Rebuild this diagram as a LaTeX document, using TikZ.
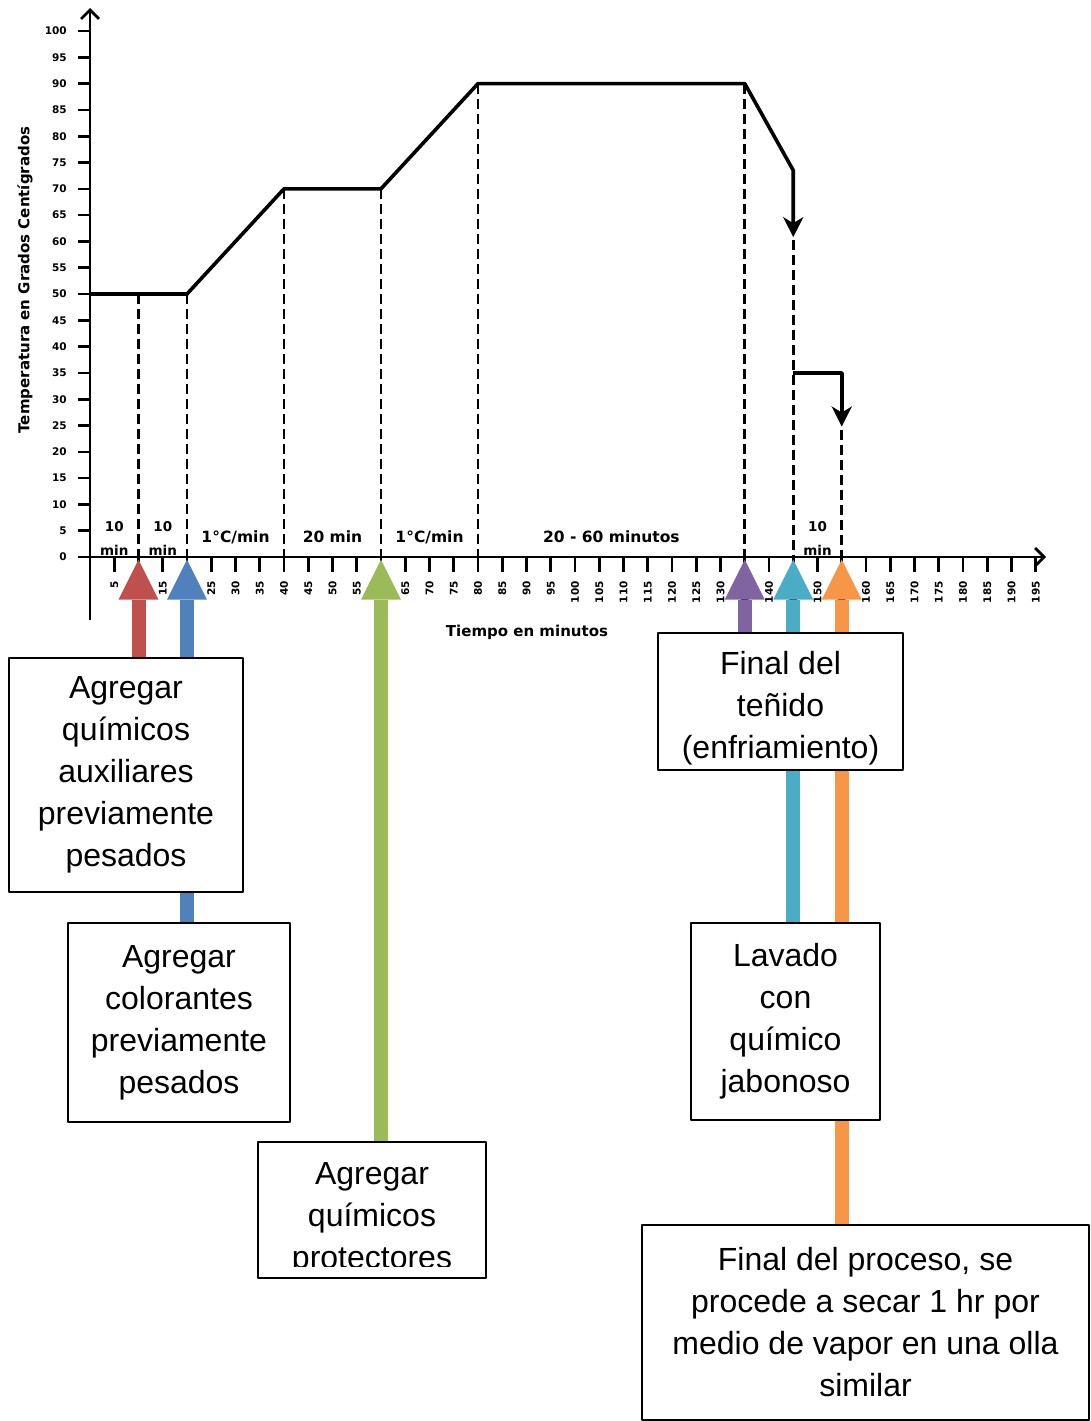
\documentclass[tikz,border=0pt]{standalone}
\usepackage{fontspec}
\setmainfont{Liberation Sans}
\newfontfamily\chartfont{DejaVu Sans}
\usepackage{tikz}
\usepackage{xcolor}
\definecolor{redarrow}{RGB}{192,80,77}
\definecolor{bluearrow}{RGB}{79,129,189}
\definecolor{greenarrow}{RGB}{155,187,89}
\definecolor{purplearrow}{RGB}{128,100,162}
\definecolor{aquaarrow}{RGB}{75,172,198}
\definecolor{orangearrow}{RGB}{247,150,70}
\usetikzlibrary{arrows.meta, positioning, backgrounds}

\begin{document}
\begin{tikzpicture}[
            x=1pt, y=-1pt,
            line join=bevel,
            textbox/.style={draw=black, line width=1.6pt, fill=white, align=center, inner sep=0pt, font=\fontsize{32}{42}\selectfont},
            blockarrow/.style={line width=14pt, -{Triangle[length=40pt, width=40pt, line width=0pt]}},
            chartaxis/.style={line width=2.8pt, -{Straight Barb[length=9pt, width=18pt]}},
            charttick/.style={line width=2.6pt},
            tempcurve/.style={line width=3.6pt, -{Stealth[length=20pt, width=20pt, inset=6pt]}},
            guideline/.style={line width=2.6pt, dash pattern=on 10pt off 5pt},
            ticklabel/.style={font=\chartfont\bfseries\fontsize{10.5}{10.5}\selectfont, inner sep=0pt},
            steplabel/.style={font=\chartfont\bfseries\fontsize{15.5}{15.5}\selectfont, inner sep=0pt},
            shortlabel/.style={font=\chartfont\bfseries\fontsize{13.5}{24}\selectfont, inner sep=0pt, align=center, anchor=south},
            axislabel/.style={font=\chartfont\bfseries\fontsize{15}{15}\selectfont, inner sep=0pt}
            ]

            \useasboundingbox (0,0) rectangle (1091,1421);

            % Boxes
            \node[textbox, minimum width=234pt, minimum height=234pt] (auxiliares) at (126,775) {Agregar\\químicos\\auxiliares\\previamente\\pesados};
            \node[textbox, minimum width=222pt, minimum height=199pt] (colorantes) at (179,1022.5) {Agregar\\colorantes\\previamente\\pesados};
            \node[textbox, minimum width=228pt, minimum height=136pt] (protectores) at (372,1210) {};
            \begin{scope}
                \clip (protectores.north west) rectangle ([yshift=12pt]protectores.south east);
                \node[textbox, draw=none, fill=none, anchor=north] (protectorestext) at ([yshift=-20pt]protectores.north) {Agregar\\químicos\\protectores};
            \end{scope}
            \node[textbox, minimum width=245pt, minimum height=137pt] (enfriamiento) at (780.5,701.5) {\rule{0pt}{36pt}Final del\\teñido\\(enfriamiento)};
            \node[textbox, minimum width=189pt, minimum height=197pt] (jabonoso) at (785.5,1021.5) {Lavado\\con\\químico\\jabonoso};
            \node[textbox, minimum width=447pt, minimum height=195pt] (secado) at (865.5,1322.5) {Final del proceso, se\\procede a secar 1 hr por\\medio de vapor en una olla\\similar};

            \begin{scope}[shift={(90,557)}, x=4.85pt, y=5.26pt]

            % Axes
            \draw[chartaxis] (0pt,-63pt) -- (0pt,549pt);
            \draw[chartaxis] (0pt,0pt) -- (956pt,0pt);
            \node[axislabel, rotate=90] (ytitle) at (-65pt,277pt) {Temperatura en Grados Centígrados};
            \node[axislabel] (xtitle) at (437pt,-75pt) {Tiempo en minutos};

            % Points on the time axis
            \foreach \m in {10,20,60,135,145,155} {
                \coordinate (t\m) at (\m,-0.5);
            }

            % Temperature curve
            \draw[tempcurve] (0,50) -- (20,50) -- (40,70) -- (60,70) -- (80,90) -- (135,90) -- (145,73.5) -- (145,60.8);
            \draw[tempcurve] (145,35) -- (155,35) -- (155,24.8);

            % Guide lines
            \foreach \m/\t in {10/50, 20/50, 40/70, 60/70, 80/90, 135/90, 145/60.2, 155/24.2} {
                \draw[guideline] (\m,\t) -- (\m,0);
            }

            % Step labels
            \node[shortlabel] (hold1) at (5,0.3) {10\\min};
            \node[shortlabel] (hold2) at (15,0.3) {10\\min};
            \node[steplabel, anchor=base] (ramp1) at (30,2.7) {1°C/min};
            \node[steplabel, anchor=base] (hold3) at (50,2.7) {20 min};
            \node[steplabel, anchor=base] (ramp2) at (70,2.7) {1°C/min};
            \node[steplabel, anchor=base] (hold4) at (107.5,2.7) {20 - 60 minutos};
            \node[shortlabel] (wash) at (150,0.3) {10\\min};

            \begin{pgfonlayer}{background}
            % Y-axis ticks and labels
            \foreach \t in {0,5,...,100} {
                \draw[charttick] (0,\t) -- ++(-12pt,0pt) node[ticklabel, left=10pt] (y\t) {\t};
            }

            % X-axis ticks and labels
            \foreach \m in {5,10,...,195} {
                \draw[charttick] (\m,0) -- ++(0pt,-15pt) ++(0pt,-8pt) node[ticklabel, rotate=90, anchor=east] (x\m) {\m};
            }

            % Arrows
            \draw[blockarrow, redarrow] (t10 |- auxiliares.north) -- (t10);
            \draw[blockarrow, bluearrow] (t20 |- colorantes.north) -- (t20);
            \draw[blockarrow, greenarrow] (t60 |- protectores.north) -- (t60);
            \draw[blockarrow, purplearrow] (t135 |- enfriamiento.north) -- (t135);
            \draw[blockarrow, aquaarrow] (t145 |- jabonoso.north) -- (t145);
            \draw[blockarrow, orangearrow] (t155 |- secado.north) -- (t155);
            \end{pgfonlayer}

            \end{scope}
\end{tikzpicture}
\end{document}
